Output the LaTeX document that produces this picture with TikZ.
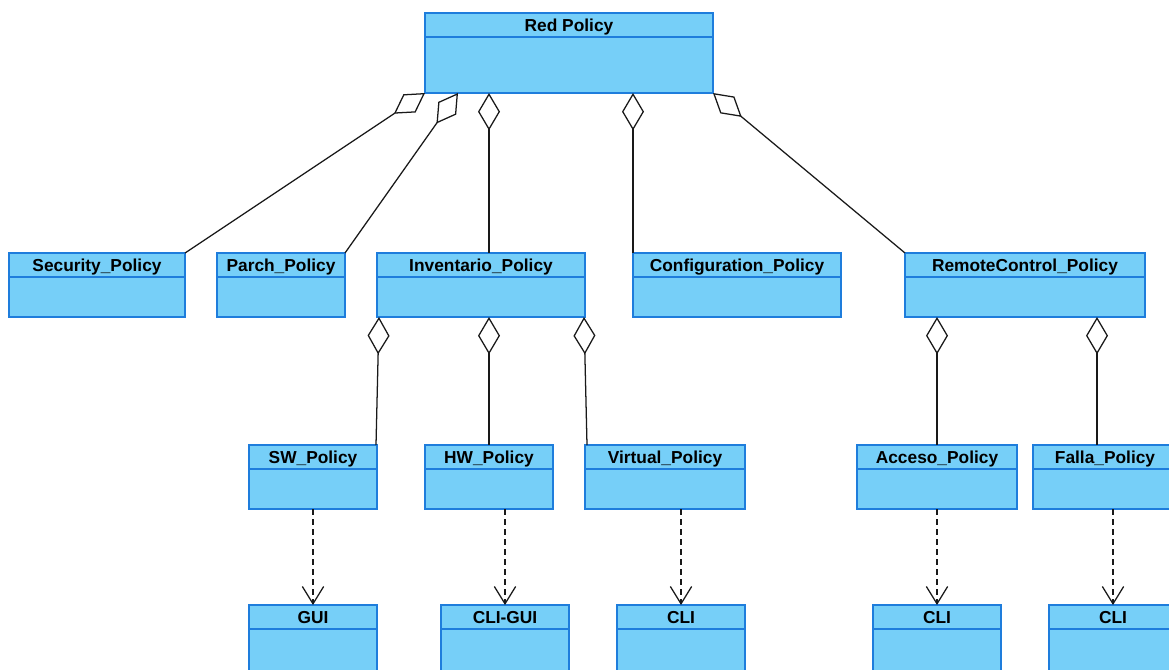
\documentclass[tikz,border=0pt]{standalone}
\usepackage{fontspec}
\setmainfont{Liberation Sans}
\usetikzlibrary{arrows.meta,calc}

\definecolor{classfill}{RGB}{118,207,248}
\definecolor{classedge}{RGB}{30,125,220}

\tikzset{
  classbox/.style={draw=classedge, fill=classfill, line width=1.1pt,
    inner sep=0pt, outer sep=0pt, rectangle},
  classline/.style={draw=classedge, line width=1.1pt},
  classtitle/.style={inner sep=0pt, font=\bfseries\fontsize{13pt}{15pt}\selectfont},
  aggregation/.style={draw=black!90, line width=0.95pt,
    {Diamond[open, fill=white, length=28pt, width=16.5pt, line width=0.95pt]}-},
  dependency/.style={draw=black!90, line width=0.95pt, dash pattern=on 4.5pt off 3pt,
    -{Straight Barb[length=13pt, width=16pt, line width=0.95pt]}},
}

% \umlclass{name}{x}{y}{width}{height}{title}: a class box with a title compartment
\newcommand{\umlclass}[6]{%
  \node[classbox, minimum width=#4*0.75pt, minimum height=#5*0.75pt,
        anchor=north west] (#1) at (#2,#3) {};
  \draw[classline] ([yshift=-18pt]#1.north west) -- ([yshift=-18pt]#1.north east);
  \node[classtitle, anchor=base] at ([yshift=-13.5pt]#1.north) {#6};
}

\begin{document}
\begin{tikzpicture}[x=0.75pt, y=-0.75pt]
\useasboundingbox (0,0) rectangle (1169,669);
\clip (0,0) rectangle (1169,669);

% root
\umlclass{red}{425}{13}{288}{80}{Red Policy}

% second level
\umlclass{sec}{9}{253}{176}{64}{Security\_Policy}
\umlclass{parch}{217}{253}{128}{64}{Parch\_Policy}
\umlclass{inv}{377}{253}{208}{64}{Inventario\_Policy}
\umlclass{conf}{633}{253}{208}{64}{Configuration\_Policy}
\umlclass{rc}{905}{253}{240}{64}{RemoteControl\_Policy}

% third level
\umlclass{sw}{249}{445}{128}{64}{SW\_Policy}
\umlclass{hw}{425}{445}{128}{64}{HW\_Policy}
\umlclass{virt}{585}{445}{160}{64}{Virtual\_Policy}
\umlclass{acc}{857}{445}{160}{64}{Acceso\_Policy}
\umlclass{falla}{1033}{445}{144}{64}{Falla\_Policy}

% interfaces
\umlclass{gui}{249}{605}{128}{72}{GUI}
\umlclass{cligui}{441}{605}{128}{72}{CLI-GUI}
\umlclass{clia}{617}{605}{128}{72}{CLI}
\umlclass{clib}{873}{605}{128}{72}{CLI}
\umlclass{clic}{1049}{605}{128}{72}{CLI}

% aggregations from Red Policy
\draw[aggregation] (red.south west) -- (sec.north east);
\draw[aggregation] ($(red.south west)+(33,0)$) -- (parch.north east);
\draw[aggregation] ($(red.south west)+(64,0)$) -- ($(inv.north west)+(112,0)$);
\draw[aggregation] (red.south west -| conf.north west) -- (conf.north west);
\draw[aggregation] (red.south east) -- (rc.north west);

% aggregations from Inventario_Policy
\draw[aggregation] ($(inv.south west)+(2,0)$) -- ($(sw.north east)+(-1,0)$);
\draw[aggregation] (inv.south west -| hw.north) -- (hw.north);
\draw[aggregation] ($(inv.south east)+(-1,0)$) -- ($(virt.north west)+(2,0)$);

% aggregations from RemoteControl_Policy
\draw[aggregation] (rc.south west -| acc.north) -- (acc.north);
\draw[aggregation] ($(rc.south west)+(192,0)$) -- ($(falla.north west)+(64,0)$);

% dependencies
\draw[dependency] (sw.south -| gui.north) -- (gui.north);
\draw[dependency] (hw.south -| cligui.north) -- (cligui.north);
\draw[dependency] (virt.south -| clia.north) -- (clia.north);
\draw[dependency] (acc.south -| clib.north) -- (clib.north);
\draw[dependency] (falla.south -| clic.north) -- (clic.north);
\end{tikzpicture}
\end{document}
